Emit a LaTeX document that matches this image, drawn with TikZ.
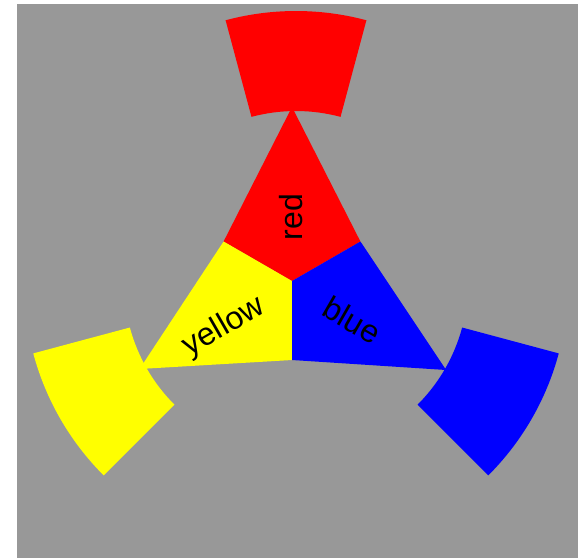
\documentclass[tikz,border=0pt]{standalone}
\usepackage{fontspec}
\setmainfont{Liberation Sans}
\definecolor{bggray}{RGB}{152,152,152}
\definecolor{pred}{RGB}{255,0,0}
\definecolor{pyellow}{RGB}{255,255,0}
\definecolor{pblue}{RGB}{0,0,255}
\tikzset{
  lbl/.style={inner sep=0pt, font=\fontsize{32}{38}\selectfont, text=black},
}
\begin{document}
\begin{tikzpicture}[x=1pt,y=1pt]
\useasboundingbox (0,0) rectangle (578,-558);
\fill[bggray] (17,-4) rectangle (578,-558);
\begin{scope}[shift={(296,-283)}]
  % outer annular sectors
  \fill[pred] (75:172) arc[start angle=75,end angle=105,radius=172] -- (105:272) arc[start angle=105,end angle=75,radius=272] -- cycle;
  \fill[pyellow] (195:172) arc[start angle=195,end angle=225,radius=172] -- (225:272) arc[start angle=225,end angle=195,radius=272] -- cycle;
  \fill[pblue] (315:172) arc[start angle=315,end angle=345,radius=172] -- (345:272) arc[start angle=345,end angle=315,radius=272] -- cycle;
\end{scope}
\begin{scope}[shift={(292,-281)}]
  % inner kites
  \fill[pred] (0,0) -- (30:79) -- (90:174) -- (150:79) -- cycle;
  \fill[pyellow] (0,0) -- (150:79) -- (210:176) -- (270:79) -- cycle;
  \fill[pblue] (0,0) -- (270:79) -- (330:178) -- (30:79) -- cycle;
\end{scope}
\node[lbl, rotate=90] (lred) at (291.5,-217) {red};
\node[lbl, rotate=30] (lyellow) at (224,-327) {yellow};
\node[lbl, rotate=-30] (lblue) at (352,-320) {blue};
\end{tikzpicture}
\end{document}
